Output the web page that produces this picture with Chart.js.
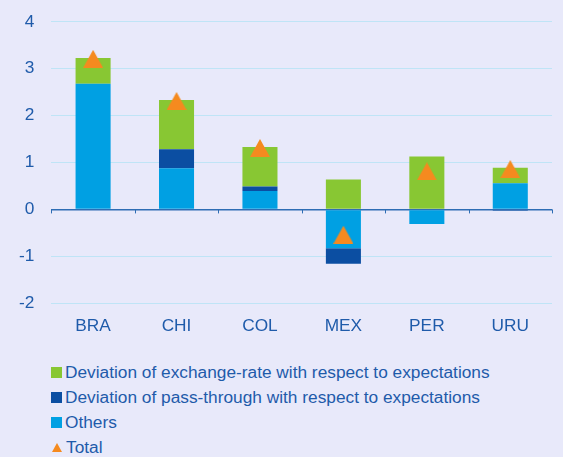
<!DOCTYPE html>
<html>
<head>
<meta charset="utf-8">
<script src="https://cdn.jsdelivr.net/npm/chart.js@4"></script>
<style>
  body { margin: 0; background: #E8E9FA; }
  #wrap { position: relative; width: 563px; height: 457px; background: #E8E9FA; overflow: hidden; }
  #c { position: absolute; left: 0; top: 0; }
  #legend { position: absolute; left: 51px; top: 360px; font: 17.3px "Liberation Sans", Arial, sans-serif; color: #1F5BAA; }
  .row { height: 25px; display: flex; align-items: center; white-space: nowrap; }
  .box { width: 11px; height: 11px; margin-right: 3px; }
  .tri { width: 0; height: 0; border-left: 5px solid transparent; border-right: 5px solid transparent; border-bottom: 9px solid #F58A1F; margin: 0 4px 0 1px; }
</style>
</head>
<body>
<div id="wrap">
  <canvas id="c" width="563" height="356"></canvas>
  <div id="legend"></div>
</div>
<script>
// categories
var countries = ["BRA", "CHI", "COL", "MEX", "PER", "URU"];
// series (percentage points)
var others = [2.68, 0.88, 0.39, -0.83, -0.31, 0.56];
var passThrough = [0, 0.40, 0.10, -0.33, 0, -0.03];
var exchangeRate = [0.55, 1.05, 0.84, 0.64, 1.13, 0.33];
var total = [3.21, 2.31, 1.31, -0.54, 0.81, 0.86];
var yTicks = [-2, -1, 0, 1, 2, 3, 4];

var textBlue = "#1F5BAA";
var font = { family: "'Liberation Sans', Arial, sans-serif", size: 17.3 };

// triangle marker, centred on its box like the original
var tri = document.createElement("canvas");
tri.width = 20; tri.height = 18;
var t = tri.getContext("2d");
t.fillStyle = "#F58A1F";
t.beginPath(); t.moveTo(10, 0); t.lineTo(20, 18); t.lineTo(0, 18); t.closePath(); t.fill();

var zeroTicks = {
  id: "zeroTicks",
  afterDraw: function (chart) {
    var a = chart.chartArea, y0 = chart.scales.y.getPixelForValue(0);
    var n = countries.length, w = (a.right - a.left) / n;
    var ctx = chart.ctx;
    ctx.save();
    ctx.strokeStyle = "#2E6DB4";
    ctx.lineWidth = 1;
    for (var i = 0; i <= n; i++) {
      var x = Math.round(a.left + i * w) + 0.5;
      ctx.beginPath(); ctx.moveTo(x, y0); ctx.lineTo(x, y0 + 4); ctx.stroke();
    }
    ctx.restore();
  }
};

var chart = new Chart(document.getElementById("c"), {
  type: "bar",
  data: {
    labels: countries,
    datasets: [
      { label: "Others", data: others, backgroundColor: "#00A0E3", order: 2 },
      { label: "Deviation of pass-through with respect to expectations", data: passThrough, backgroundColor: "#0B4EA2", order: 2 },
      { label: "Deviation of exchange-rate with respect to expectations", data: exchangeRate, backgroundColor: "#88C733", order: 2 },
      { label: "Total", type: "line", data: total, showLine: false, pointStyle: tri, pointRadius: 10,
        backgroundColor: "#F58A1F", borderColor: "#F58A1F", order: 1, stack: "total" }
    ]
  },
  options: {
    responsive: false,
    animation: false,
    layout: { padding: { top: 6, left: 2, right: 0, bottom: 6 } },
    datasets: { bar: { barPercentage: 0.42, categoryPercentage: 1 } },
    plugins: { legend: { display: false }, tooltip: { enabled: false } },
    scales: {
      x: {
        stacked: true,
        grid: { display: false, drawTicks: false },
        border: { display: false },
        ticks: { color: textBlue, font: font, padding: 13 }
      },
      y: {
        stacked: true,
        min: -2, max: 4,
        afterBuildTicks: function (s) { s.ticks = yTicks.map(function (v) { return { value: v }; }); },
        grid: {
          drawTicks: false,
          color: function (c) { return c.tick && c.tick.value === 0 ? "#2E6DB4" : "#BFE4F6"; },
          lineWidth: function (c) { return c.tick && c.tick.value === 0 ? 1.5 : 1; }
        },
        border: { display: false },
        ticks: { color: textBlue, font: { family: font.family, size: font.size, lineHeight: 0.55 }, padding: 17 }
      }
    }
  },
  plugins: [zeroTicks]
});

// legend, in the original order
var legendOrder = [2, 1, 0, 3];
var lg = document.getElementById("legend");
legendOrder.forEach(function (i) {
  var ds = chart.data.datasets[i];
  var row = document.createElement("div");
  row.className = "row";
  var mark = document.createElement("span");
  if (ds.type === "line") { mark.className = "tri"; }
  else { mark.className = "box"; mark.style.background = ds.backgroundColor; }
  var txt = document.createElement("span");
  txt.textContent = ds.label;
  row.appendChild(mark); row.appendChild(txt);
  lg.appendChild(row);
});
</script>
</body>
</html>
